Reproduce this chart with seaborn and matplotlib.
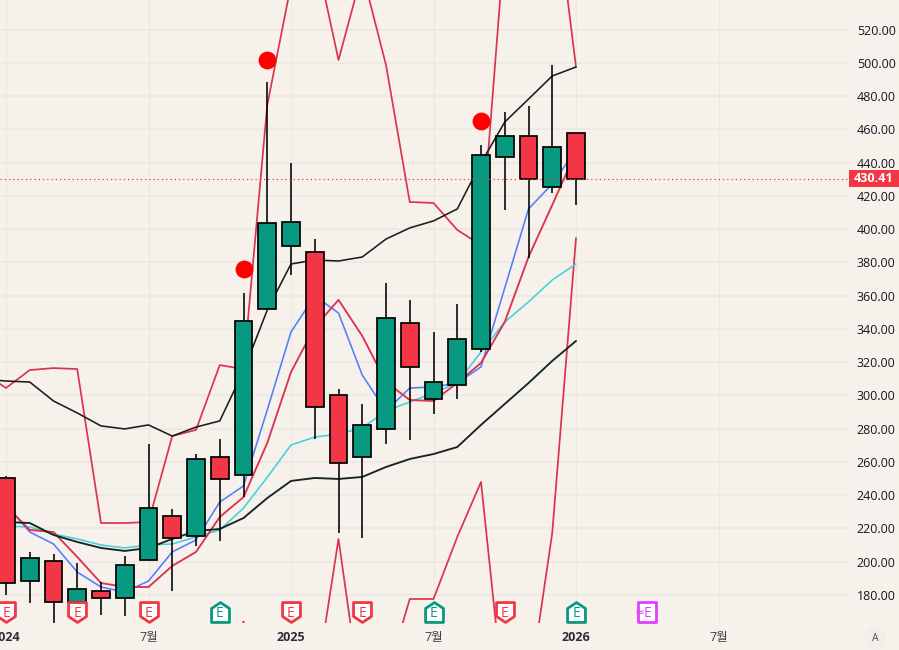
import matplotlib
matplotlib.use("Agg")
import matplotlib.pyplot as plt
import numpy as np
import pandas as pd
import seaborn as sns
from matplotlib.path import Path
from matplotlib.patches import Rectangle
from matplotlib.transforms import blended_transform_factory

# Monthly OHLC, one entry per month from January 2024
opens = [250.4, 188.4, 200.5, 175.8, 182.4, 178.2, 201.1, 227.5, 215.5, 263.0, 252.2, 352.0, 389.9,
         386.3, 300.3, 263.0, 279.9, 343.6, 297.9, 306.3, 328.0, 443.5, 456.1, 425.4, 457.9]
highs = [251.6, 205.9, 204.7, 199.2, 187.8, 203.5, 270.8, 231.7, 264.8, 273.8, 361.7, 488.6, 439.9,
         394.1, 303.9, 294.9, 367.7, 357.5, 338.2, 355.0, 450.7, 470.5, 474.1, 498.8, 457.9]
lows = [180.0, 175.2, 162.6, 162.6, 168.0, 167.4, 201.1, 182.4, 209.5, 212.5, 238.9, 352.0, 372.5,
        273.8, 217.3, 214.3, 270.8, 273.2, 288.9, 297.9, 326.2, 411.6, 382.7, 421.8, 414.6]
closes = [187.2, 202.2, 175.8, 183.6, 178.2, 198.1, 232.3, 214.3, 261.8, 249.8, 344.8, 403.8, 404.4,
          293.1, 259.4, 282.3, 346.6, 317.2, 308.1, 334.0, 444.7, 456.1, 430.41, 449.5, 430.41]

# Overlay studies; the first entry of each list is the month before January 2024
upper_black = [309.9, 308.7, 308.1, 296.7, 289.5, 281.7, 279.9, 282.3, 275.6, 281.0, 284.7, 314.7, 351.4,
               379.1, 381.5, 380.9, 383.3, 394.1, 400.8, 405.0, 412.2, 439.9, 464.5, 478.3, 492.2, 497.6]
upper_red = [314.1, 304.5, 315.3, 316.5, 315.9, 223.3, 223.3, 223.9, 275.6, 279.3, 318.3, 315.9, 474.7,
             547.0, 568.0, 501.8, 554.7, 498.8, 416.4, 415.8, 399.6, 390.5, 574.0, 658.0, 613.0, 497.6]
lower_red = [120.0, 118.0, 125.0, 112.0, 105.0, 100.0, 98.0, 95.0, 92.0, 100.0, 104.8, 164.1, 104.8,
             92.8, 121.1, 213.7, 112.6, 128.9, 177.6, 177.6, 214.9, 248.0, 112.0, 119.9, 217.3, 394.7]
blue_ma = [240.0, 234.1, 217.9, 210.7, 193.8, 184.8, 181.8, 188.4, 205.9, 213.1, 235.9, 245.6, 291.3,
           338.2, 359.9, 349.6, 312.3, 290.7, 304.5, 305.1, 307.5, 317.2, 364.7, 412.2, 427.2, 447.7]
red_ma = [240.0, 233.5, 219.1, 217.9, 202.9, 187.2, 184.8, 184.8, 197.5, 205.9, 226.9, 238.9, 271.4,
          314.1, 341.2, 357.5, 335.8, 308.1, 297.3, 296.7, 307.5, 319.6, 344.2, 383.3, 414.6, 446.5]
cyan_ma = [222.0, 221.5, 220.9, 216.7, 213.7, 210.1, 208.3, 210.1, 210.7, 214.9, 219.1, 232.3, 250.8,
           270.2, 275.0, 276.8, 280.5, 290.7, 296.1, 301.5, 307.5, 326.2, 344.2, 356.3, 369.5, 379.1]
lower_black = [224.0, 223.9, 223.3, 216.1, 211.9, 208.3, 206.5, 208.3, 213.7, 218.5, 219.7, 226.3, 238.3,
               248.6, 250.4, 249.8, 251.0, 257.0, 261.8, 264.8, 269.0, 282.3, 294.9, 307.5, 320.8, 332.8]

# Signal dots and earnings markers
signal_months = [10, 11, 20]
signal_prices = [376.0, 502.0, 465.0]
earn_red = [0, 3, 6, 12, 15, 21]
earn_green = [9, 18, 24]
earn_future = [27]

x_ticks = [0, 6, 12, 18, 24, 30]
x_labels = ["2024", "7월", "2025", "7월", "2026", "7월"]
y_ticks = list(range(180, 521, 20))
last_price = 430.41

BG = "#f6f2eb"
GRID = "#ebe8e1"
UP = "#089981"
DOWN = "#f23645"
LINE_RED = "#dc3350"
TEXT = "#131722"

sns.set_theme(style="white", rc={"figure.facecolor": BG, "axes.facecolor": BG})
plt.rcParams["font.family"] = ["Open Sans", "Noto Sans CJK KR"]

fig = plt.figure(figsize=(8.99, 6.5), dpi=100)
ax = fig.add_axes([0, 1 - 623 / 650, 848 / 899, 623 / 650])

months = np.arange(-1, 25)
studies = pd.DataFrame({
    "month": months,
    "upper_black": upper_black,
    "upper_red": upper_red,
    "lower_red": lower_red,
    "blue_ma": blue_ma,
    "red_ma": red_ma,
    "cyan_ma": cyan_ma,
    "lower_black": lower_black,
})
styles = {
    "upper_red": (LINE_RED, 1.25),
    "lower_red": (LINE_RED, 1.25),
    "cyan_ma": ("#45cfdc", 1.15),
    "blue_ma": ("#4f7fff", 1.15),
    "red_ma": (LINE_RED, 1.35),
    "upper_black": ("#1c1c1c", 1.15),
    "lower_black": ("#14261f", 1.35),
}
for name, (color, width) in styles.items():
    sns.lineplot(data=studies, x="month", y=name, color=color, linewidth=width,
                 estimator=None, sort=False, ax=ax, zorder=2)

# Candles: wicks first, bodies over them
idx = np.arange(len(opens))
o, h, l, c = map(np.array, (opens, highs, lows, closes))
ax.vlines(idx, l, h, color="black", linewidth=1.15, zorder=3)
colors = [UP if cl > op else DOWN for op, cl in zip(o, c)]
ax.bar(idx, np.abs(c - o), bottom=np.minimum(o, c), width=0.75, color=colors,
       edgecolor="black", linewidth=1.25, zorder=4)

ax.axhline(last_price, color=DOWN, linewidth=0.9, linestyle=(0, (1, 2.4)), zorder=5)

sns.scatterplot(x=signal_months, y=signal_prices, color="#ff0000", s=165, linewidth=0,
                ax=ax, zorder=6)

# Earnings badges along the bottom of the pane
shield = Path([(-9, 10), (9, 10), (9, -4), (0, -10), (-9, -4), (-9, 10)], closed=True)
house = Path([(-9, -10), (9, -10), (9, 4), (0, 10), (-9, 4), (-9, -10)], closed=True)
tag = Path([(-9, -10), (9, -10), (9, 10), (-9, 10), (-9, -10)], closed=True)
BADGE_Y = 169.9
for spots, path, col in [(earn_red, shield, DOWN), (earn_green, house, UP), (earn_future, tag, "#e040fb")]:
    ax.scatter(spots, [BADGE_Y] * len(spots), marker=path, s=205, facecolor="white",
               edgecolor=col, linewidth=2.0, zorder=7)
    for m in spots:
        ax.text(m, BADGE_Y, "E", color=col, fontsize=10, ha="center", va="center_baseline", zorder=8)
ax.text(earn_future[0] - 0.33, BADGE_Y, "≈", color="#e040fb", fontsize=8.5, ha="center",
        va="center_baseline", family=["DejaVu Sans"], zorder=8)

ax.set_xlim(-6 / 23.75, 842 / 23.75)
ax.set_ylim(180 + (595 - 623) * 0.6015, 180 + 595 * 0.6015)

ax.set_xticks(x_ticks)
ax.set_xticklabels(x_labels)
for lab, name in zip(ax.get_xticklabels(), x_labels):
    if name.isdigit():
        lab.set_fontweight("bold")
        lab.set_color("#2a2e39")
    else:
        lab.set_color("#3a3e49")
ax.set_yticks(y_ticks)
ax.set_yticklabels([f"{v:.2f}" for v in y_ticks])
ax.yaxis.tick_right()
ax.tick_params(axis="y", length=0, pad=6.3, labelsize=9, labelcolor=TEXT)
ax.tick_params(axis="x", length=0, pad=5.5, labelsize=9)
ax.grid(True, axis="y", color=GRID, linewidth=1.1, zorder=0)
ax.grid(True, axis="x", color=GRID, linewidth=0.85, zorder=0)
ax.set_axisbelow(True)
ax.set_xlabel("")
ax.set_ylabel("")
for side in ax.spines.values():
    side.set_visible(False)

trans = blended_transform_factory(ax.transAxes, ax.transData)

# Next scale label, cut by the top of the figure
ax.text(1 + 9 / 848, 540, "540.00", transform=trans, fontsize=9, color=TEXT,
        ha="left", va="center", clip_on=False)

# Last-price tag on the scale
ax.add_patch(Rectangle((1 + 1 / 848, last_price - 5.1), 50 / 848, 10.2, transform=trans,
                       facecolor=DOWN, edgecolor="none", clip_on=False, zorder=9))
ax.text(1 + 26 / 848, last_price, f"{last_price:.2f}", transform=trans, fontsize=9, color="white",
        fontweight="bold", ha="center", va="center", clip_on=False, zorder=10)

# Auto-scale button in the corner
fig.text(875.5 / 899, 1 - 638.5 / 650, "A", fontsize=7.5, color="#50535e", ha="center", va="center",
         bbox=dict(boxstyle="circle,pad=0.55", facecolor="#efeee9", edgecolor="none"))

fig.savefig("out.png", dpi=100, facecolor=BG)
